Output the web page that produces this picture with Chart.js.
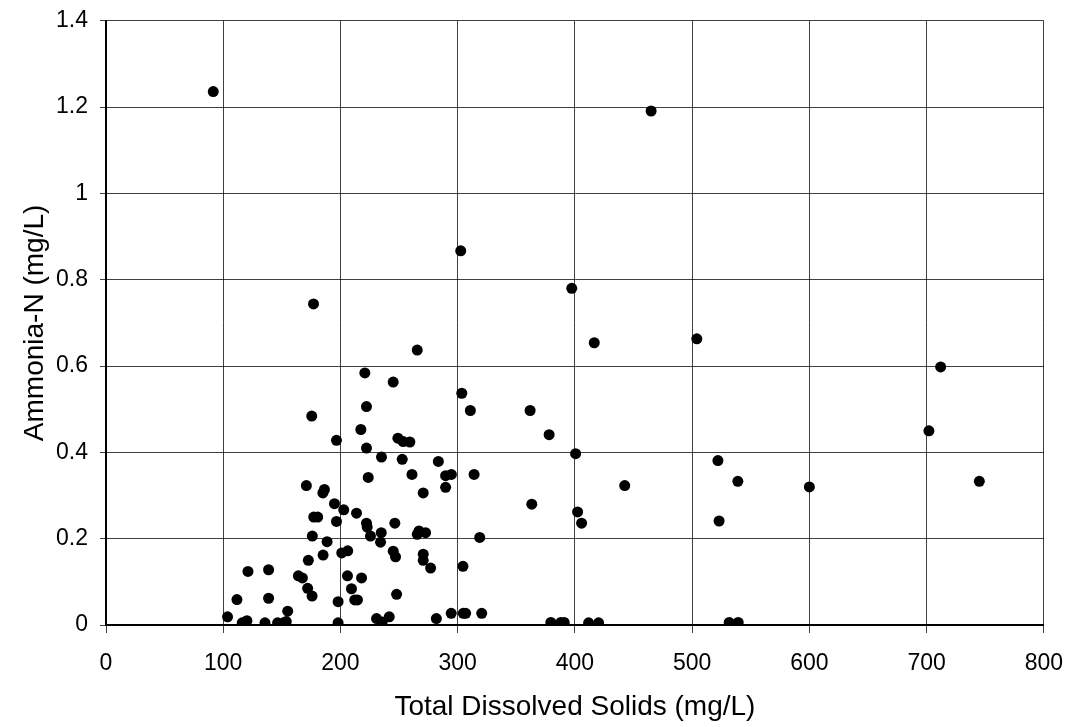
<!DOCTYPE html>
<html>
<head>
<meta charset="utf-8">
<script src="https://cdn.jsdelivr.net/npm/chart.js@4.4.1/dist/chart.umd.min.js"></script>
<style>
  html, body { margin: 0; padding: 0; background: #fff; overflow: hidden; }
  #wrap { position: absolute; left: 0; top: -5px; width: 1080px; height: 732px; }
</style>
</head>
<body>
<div id="wrap"><canvas id="scatterChart"></canvas></div>
<script>
// TDS (mg/L) vs Ammonia-N (mg/L)
var tds = [91.5, 465, 302.6, 397.3, 177, 504, 416.5, 265.5, 712, 220.8,
    245, 303.5, 222.2, 310.8, 361.8, 175.5, 217.4, 702, 378, 249,
    253.5, 259.2, 196.6, 222.2, 400.6, 235, 252.7, 283.5, 522, 223.7,
    261, 289.7, 294.6, 314, 539, 745, 442.5, 170.9, 600, 289.7,
    186.3, 185, 270.6, 194.9, 363.2, 202.8, 213.7, 402.3, 177.2, 180.6,
    196.6, 222.2, 222.8, 246.4, 405.7, 523, 234.8, 267, 272.6, 265.5,
    176, 225.6, 318.8, 188.6, 234.2, 201.1, 206.2, 185.2, 245, 247,
    270.6, 172.6, 270.6, 276.9, 304.5, 121.1, 138.7, 164.1, 167.5, 206,
    218, 172, 209.4, 175.8, 111.7, 138.7, 198, 212.2, 214.5, 247.9,
    155, 103.7, 116.2, 120.2, 135.6, 146.4, 151.5, 153.8, 198, 230.8,
    235.6, 241.6, 281.8, 294.5, 304.8, 306.8, 320.5, 379.5, 388, 390.9,
    411.7, 420.2, 531.6, 539.3];

var ammonia = [1.236, 1.191, 0.867, 0.780, 0.744, 0.663, 0.654, 0.637, 0.598, 0.584,
    0.563, 0.537, 0.506, 0.497, 0.497, 0.484, 0.453, 0.450, 0.441, 0.433,
    0.425, 0.424, 0.428, 0.410, 0.397, 0.389, 0.384, 0.379, 0.381, 0.342,
    0.349, 0.346, 0.349, 0.349, 0.333, 0.333, 0.323, 0.323, 0.320, 0.319,
    0.314, 0.306, 0.306, 0.281, 0.280, 0.267, 0.259, 0.262, 0.250, 0.250,
    0.240, 0.236, 0.227, 0.236, 0.236, 0.241, 0.214, 0.218, 0.214, 0.210,
    0.206, 0.206, 0.203, 0.193, 0.192, 0.167, 0.172, 0.162, 0.171, 0.158,
    0.164, 0.150, 0.150, 0.132, 0.136, 0.124, 0.128, 0.114, 0.109, 0.114,
    0.109, 0.085, 0.084, 0.067, 0.059, 0.062, 0.054, 0.058, 0.058, 0.071,
    0.032, 0.019, 0.005, 0.010, 0.005, 0.005, 0.005, 0.008, 0.005, 0.015,
    0.007, 0.019, 0.015, 0.027, 0.027, 0.027, 0.027, 0.006, 0.006, 0.006,
    0.005, 0.005, 0.006, 0.006];

var xTicks = [0, 100, 200, 300, 400, 500, 600, 700, 800];
var yTicks = [0, 0.2, 0.4, 0.6, 0.8, 1, 1.2, 1.4];

var points = tds.map(function (x, i) {
    return { x: x, y: ammonia[i] };
});

var fontFamily = "'Liberation Sans', Arial, sans-serif";

var ctx = document.getElementById("scatterChart");

new Chart(ctx, {
    type: 'scatter',
    data: {
        datasets: [{
            data: points,
            backgroundColor: '#000',
            borderWidth: 0,
            pointRadius: 5.5,
            pointHoverRadius: 5.5
        }]
    },
    options: {
        responsive: true,
        maintainAspectRatio: false,
        animation: false,
        layout: { padding: { top: 14, right: 11, left: 0, bottom: 0 } },
        plugins: { legend: { display: false }, tooltip: { enabled: false } },
        scales: {
            x: {
                type: 'linear',
                min: 0,
                max: 800,
                afterBuildTicks: function (scale) {
                    scale.ticks = xTicks.map(function (v) { return { value: v }; });
                },
                afterFit: function (scale) { scale.height = 102; },
                grid: { color: 'rgba(0,0,0,0.75)', lineWidth: 1, tickLength: 8 },
                border: { color: '#000', width: 2 },
                ticks: {
                    color: '#000',
                    padding: 17,
                    maxRotation: 0,
                    font: { family: fontFamily, size: 23 }
                },
                title: {
                    display: true,
                    text: 'Total Dissolved Solids (mg/L)',
                    color: '#000',
                    padding: { top: 0, bottom: 3 },
                    font: { family: fontFamily, size: 28 }
                }
            },
            y: {
                type: 'linear',
                min: 0,
                max: 1.4,
                afterBuildTicks: function (scale) {
                    scale.ticks = yTicks.map(function (v) { return { value: v }; });
                },
                afterFit: function (scale) { scale.width = 106; },
                grid: { color: 'rgba(0,0,0,0.75)', lineWidth: 1, tickLength: 6 },
                border: { color: '#000', width: 2 },
                ticks: {
                    color: '#000',
                    padding: 12,
                    font: { family: fontFamily, size: 23 },
                    callback: function (v) { return String(v); }
                },
                title: {
                    display: true,
                    text: 'Ammonia-N (mg/L)',
                    color: '#000',
                    padding: { top: 18, bottom: 0 },
                    font: { family: fontFamily, size: 28 }
                }
            }
        }
    }
});
</script>
</body>
</html>
